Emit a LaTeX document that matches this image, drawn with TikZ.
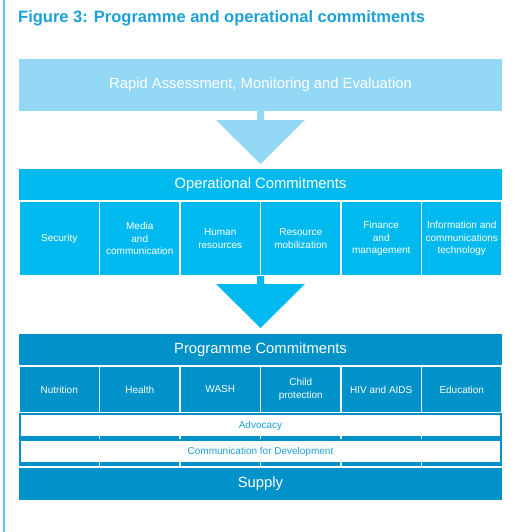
\documentclass[tikz,border=0pt]{standalone}
\usepackage{fontspec}
\setmainfont{Liberation Sans}
\usetikzlibrary{positioning}
\definecolor{titleblue}{HTML}{1CA0D8}
\definecolor{paleblue}{HTML}{93D8F5}
\definecolor{cyanblue}{HTML}{00BAEF}
\definecolor{deepblue}{HTML}{0092C8}
\definecolor{edgeblue}{HTML}{5CC6EE}
\begin{document}
\begin{tikzpicture}[x=1pt, y=-1pt, node distance=0pt,
    bar/.style={rectangle, minimum width=483pt, inner sep=0pt, outer sep=0pt, text=white, font=\fontsize{14.8}{17}\selectfont},
    cell/.style={rectangle, draw=white, line width=1.2pt, minimum width=80.5pt, inner sep=1pt, outer sep=0pt, text=white, align=center, font=\fontsize{10}{12.7}\selectfont},
    band/.style={rectangle, fill=white, minimum width=479pt, minimum height=21pt, inner sep=0pt, outer sep=0pt, text=titleblue, font=\fontsize{10}{12}\selectfont}]
    \useasboundingbox (0,0) rectangle (514,532);
    \fill[edgeblue] (2.5,0) rectangle (4.5,532);
    \node[anchor=base west, inner sep=0pt, text=titleblue, font=\fontsize{16.5}{19}\bfseries\selectfont] (title) at (18,22.5) {Figure 3: Programme and operational commitments};

    \node[bar, fill=paleblue, minimum height=52pt, anchor=north] (ram) at (260.5,59) {Rapid Assessment, Monitoring and Evaluation};
    \node[bar, fill=cyanblue, minimum height=32pt, anchor=north] (oc) at (260.5,169) {Operational Commitments};
    \node[cell, fill=cyanblue, minimum height=75pt, below right=0pt of oc.south west] (oc1) {Security};
    \foreach \i/\t [remember=\i as \j (initially 1)] in {2/{Media\\and\\communication}, 3/{Human\\resources}, 4/{Resource\\mobilization}, 5/{Finance\\and\\management}, 6/{Information and\\communications\\technology}}
        \node[cell, fill=cyanblue, minimum height=75pt, right=0pt of oc\j] (oc\i) {\t};

    \node[bar, fill=deepblue, minimum height=32pt, anchor=north] (pc) at (260.5,334) {Programme Commitments};
    \node[cell, fill=deepblue, minimum height=47pt, below right=0pt of pc.south west] (pc1) {Nutrition};
    \foreach \i/\t [remember=\i as \j (initially 1)] in {2/Health, 3/WASH, 4/{Child\\protection}, 5/{HIV and AIDS}, 6/Education}
        \node[cell, fill=deepblue, minimum height=47pt, right=0pt of pc\j] (pc\i) {\t};
    \node[bar, fill=deepblue, minimum height=33pt, below=54pt of pc3.south east] (supply) {Supply};
    \fill[deepblue] (pc1.south west) rectangle (supply.north east);
    \node[band, below=2pt of pc3.south east] (adv) {Advocacy};
    \node[band, below=5pt of adv] (c4d) {Communication for Development};
    \draw[white, line width=1.2pt] (supply.north west) -- (supply.north east);
    \foreach \i in {1,...,5} {
        \draw[white, line width=1.2pt] (pc\i.south east |- adv.south) -- ++(0,2.5);
        \draw[white, line width=1.2pt] (pc\i.south east |- c4d.south) -- (pc\i.south east |- supply.north);
    }

    \fill[paleblue] ([xshift=-3.5pt]ram.south) -- ++(0,9) -- ++(-41,0) -- ++(44.5,44) -- ++(44.5,-44) -- ++(-41,0) -- ++(0,-9) -- cycle;
    \fill[cyanblue] ([xshift=-3.5pt]oc3.south east) -- ++(0,8) -- ++(-41,0) -- ++(44.5,44) -- ++(44.5,-44) -- ++(-41,0) -- ++(0,-8) -- cycle;
\end{tikzpicture}
\end{document}
